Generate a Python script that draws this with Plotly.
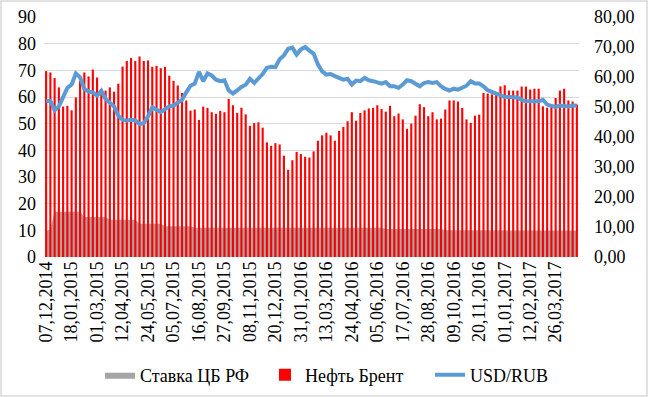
import pandas as pd
import plotly.graph_objects as go

# weekly categories 07.12.2014 ... 30.04.2017
dates = pd.date_range("2014-12-07", periods=126, freq="7D")
categories = [d.strftime("%d,%m,%Y") for d in dates]
tick_labels = categories[::6]

brent = [
    69.7, 69.2, 67.1, 63.6, 56.4, 56.7, 55.0, 59.8, 66.0, 69.2,
    67.7, 70.3, 67.3, 62.5, 62.4, 63.6, 62.0, 65.0, 71.4, 73.5,
    74.6, 73.5, 75.2, 73.5, 73.7, 71.3, 71.7, 70.8, 71.3, 68.0,
    66.0, 64.3, 61.5, 58.7, 54.9, 55.3, 51.4, 56.4, 55.9, 54.3,
    53.7, 54.8, 54.3, 59.3, 56.9, 54.0, 56.0, 53.5, 49.2, 50.2,
    50.5, 48.5, 43.0, 41.7, 42.7, 42.2, 38.0, 32.7, 36.3, 39.4,
    38.6, 37.6, 37.3, 39.6, 43.6, 45.6, 46.6, 45.6, 43.6, 47.3,
    48.8, 50.9, 54.3, 51.1, 54.0, 55.0, 55.7, 55.9, 56.9, 55.5,
    54.5, 56.7, 52.8, 53.8, 51.6, 48.0, 50.0, 53.0, 57.3, 56.2,
    52.8, 54.3, 51.6, 51.9, 55.3, 58.7, 58.7, 58.3, 55.9, 51.6,
    50.3, 53.0, 53.4, 61.5, 61.3, 61.0, 61.8, 64.0, 64.4, 62.4,
    62.4, 62.4, 63.9, 63.9, 62.8, 63.1, 63.1, 56.5, 56.0, 56.5,
    59.6, 62.4, 63.1, 58.7, 58.3, 57.2,
]

usd_rub = [
    51.9, 52.1, 48.9, 50.2, 53.3, 56.4, 57.5, 61.2, 59.9, 56.0,
    55.2, 54.9, 53.8, 55.4, 52.7, 51.3, 50.2, 47.1, 45.7, 45.4,
    45.7, 45.5, 44.3, 44.6, 46.9, 49.9, 48.9, 48.3, 49.3, 50.2,
    50.5, 51.3, 52.4, 54.9, 57.1, 57.8, 61.7, 58.6, 61.2, 60.5,
    59.1, 58.6, 58.9, 55.5, 54.5, 55.5, 56.7, 57.4, 59.4, 58.0,
    59.5, 61.0, 63.1, 63.4, 63.3, 65.9, 67.2, 69.4, 69.8, 67.5,
    69.2, 70.0, 68.8, 67.8, 64.2, 61.9, 60.8, 61.0, 60.3, 59.7,
    59.1, 59.4, 57.5, 58.8, 58.6, 59.7, 58.9, 58.6, 58.3, 57.8,
    58.3, 56.9, 56.9, 56.4, 57.5, 58.9, 58.6, 57.7, 56.9, 58.0,
    58.3, 58.0, 58.3, 56.9, 56.0, 55.5, 56.1, 55.8, 56.4, 57.1,
    58.6, 57.8, 57.8, 56.9, 55.6, 55.0, 54.7, 54.1, 53.3, 53.3,
    53.2, 53.2, 52.4, 51.9, 51.9, 51.9, 51.9, 52.4, 50.8, 50.4,
    50.0, 50.5, 50.2, 50.2, 50.5, 50.5,
]

key_rate = (
    [9.5, 10.5]
    + [17.0] * 7
    + [15.0] * 6
    + [14.0] * 7
    + [12.5] * 6
    + [11.5] * 7
    + [11.0] * 45
    + [10.5] * 14
    + [10.0] * 27
    + [9.75] * 5
)

FONT = "Liberation Serif"
FS = 18

fig = go.Figure()
fig.add_trace(go.Scatter(
    x=categories, y=key_rate, name="Ставка ЦБ РФ", mode="lines",
    line=dict(width=0, color="#a5a5a5"), fill="tozeroy", fillcolor="#a5a5a5",
    xaxis="x", yaxis="y",
))
fig.add_trace(go.Bar(
    x=categories, y=brent, name="Нефть Брент", marker=dict(color="#ff0000", line=dict(width=0)),
    width=0.5, xaxis="x", yaxis="y2",
))
fig.add_trace(go.Scatter(
    x=categories, y=usd_rub, name="USD/RUB", mode="lines",
    line=dict(color="#5b9bd5", width=4), xaxis="x", yaxis="y3",
))

fig.update_layout(
    width=648, height=397,
    margin=dict(l=44, r=69, t=17, b=140, autoexpand=False),
    paper_bgcolor="white", plot_bgcolor="white",
    separators=", ",
    font=dict(family=FONT, size=FS, color="#000000"),
    showlegend=True,
    legend=dict(orientation="h", xref="container", yref="container",
                x=100 / 648, y=(397 - 375) / 397, xanchor="left", yanchor="middle",
                entrywidth=120, entrywidthmode="pixels",
                font=dict(family=FONT, size=FS), traceorder="normal"),
    xaxis=dict(type="category", range=[-0.5, 125.5], tickmode="array",
               tickvals=tick_labels, ticktext=tick_labels, tickangle=-90,
               showgrid=False, showline=False, ticks="", zeroline=False, automargin=False,
               tickfont=dict(family=FONT, size=FS)),
    yaxis=dict(range=[0, 90], dtick=10, showgrid=True, gridcolor="#d9d9d9", gridwidth=1.3,
               zeroline=False, showline=False, ticks="", automargin=False,
               ticklabelstandoff=7, tickfont=dict(family=FONT, size=FS)),
    yaxis2=dict(range=[0, 90], overlaying="y", visible=False),
    yaxis3=dict(range=[0, 80], overlaying="y", side="right", dtick=10, tickformat=".2f",
                showgrid=False, zeroline=False, showline=False, ticks="", automargin=False,
                ticklabelstandoff=14, tickfont=dict(family=FONT, size=FS)),
    barmode="overlay",
)

# chart-area border
pw, ph = 648 - 44 - 69, 397 - 17 - 140
fig.add_shape(type="rect", xref="paper", yref="paper",
              x0=(1 - 44) / pw, x1=(647 - 44) / pw,
              y0=(257 - 396) / ph, y1=(257 - 1) / ph,
              line=dict(color="#d9d9d9", width=1.5), fillcolor="rgba(0,0,0,0)", layer="below")

fig.write_html("out.html", config={"displayModeBar": False},
               post_script="document.body.style.margin='0px';document.body.style.padding='0px';")
